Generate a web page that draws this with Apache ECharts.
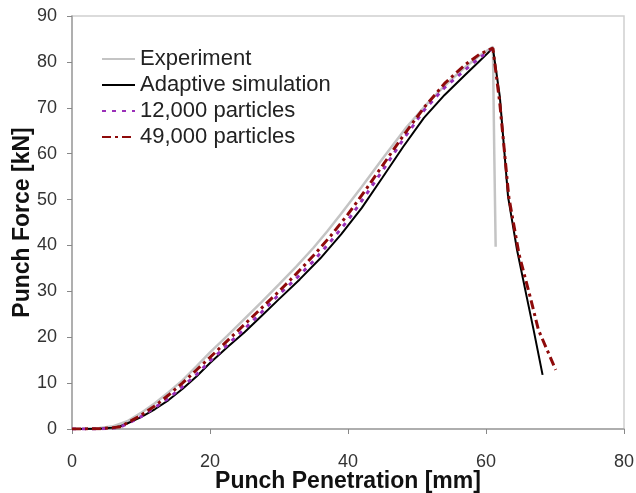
<!DOCTYPE html>
<html>
<head>
<meta charset="utf-8">
<script src="https://cdn.jsdelivr.net/npm/echarts@6/dist/echarts.min.js"></script>
<style>
  html, body { margin: 0; padding: 0; background: #fff; }
  #chart { width: 636px; height: 493px; }
</style>
</head>
<body>
<div id="chart"></div>
<script>
// punch penetration [mm], punch force [kN] pairs
const experiment = [
  [0, 0], [4, 0.2], [6, 0.6], [8, 1.7], [10, 3.5], [12, 5.6], [14, 8], [16, 10.6], [18, 13.6],
  [20, 16.7], [22.5, 20.3], [25, 24], [27.5, 27.7], [30, 31.5], [32.5, 35.4], [35, 39.5],
  [37, 43.1], [39, 46.9], [42, 52.8], [45, 58.9], [48.5, 65.8], [52, 71.8], [54.5, 75.5],
  [56.7, 78.5], [59, 81.3], [61, 83.3], [61.2, 60], [61.4, 39.7]
]
const adaptive = [
  [0, 0], [4, 0.05], [6, 0.3], [7, 0.6], [8, 1.2], [10, 2.6], [12, 4.3], [14, 6.3], [16, 8.7],
  [18, 11.4], [20, 14.4], [22.5, 17.8], [25, 21.1], [27.5, 24.7], [30, 28.3], [33, 32.6],
  [36, 37.2], [39, 42.4], [42, 48.2], [45, 54.8], [48, 61.5], [51, 67.8], [54, 72.8],
  [57, 77.2], [59, 80.1], [61, 83], [62, 72.5], [63.2, 50.6], [64.5, 39], [65.9, 28.8],
  [66.9, 21.6], [68.2, 11.8]
]
const particles12k = [
  [0, 0], [4, 0.03], [6, 0.2], [7, 0.45], [8, 1.1], [10, 2.7], [12, 4.7], [14, 6.7], [16, 9.2],
  [18, 11.8], [20, 14.8], [22.5, 18.3], [25, 21.8], [27.5, 25.5], [30, 29.3], [32.5, 32.8],
  [35, 36.6], [37.5, 40.9], [40, 45.5], [42.5, 50.8], [45, 56.3], [48, 63.1], [51, 69.4],
  [54, 74.4], [57, 78.3], [59, 80.8], [61, 83]
]
const particles49k = [
  [0, 0], [4, 0.05], [6, 0.3], [7, 0.5], [8, 1.3], [10, 3], [12, 5], [14, 7.4], [16, 10],
  [18, 12.8], [20, 15.6], [22.5, 19.2], [25, 22.8], [27.5, 26.4], [30, 30], [32.5, 33.8],
  [35, 37.8], [37.5, 42.1], [40, 46.8], [42.5, 52], [45, 57.4], [48, 63.9], [51, 70], [54, 75.3],
  [57, 79.4], [59, 81.6], [61, 83], [62, 71], [63.3, 50.6], [64.8, 38], [66.4, 28.8],
  [67.6, 21.6], [70.1, 12.9]
]
const seriesNames = ['Experiment', 'Adaptive simulation', '12,000 particles', '49,000 particles']

const font = 'Liberation Sans, Arial, sans-serif'
const chart = echarts.init(document.getElementById('chart'))

const line = (name, data, color, width, type, z) => ({
  name: name,
  type: 'line',
  data: data,
  symbol: 'none',
  z: z,
  lineStyle: { color: color, width: width, type: type },
  itemStyle: { color: color }
})

chart.setOption({
  animation: false,
  backgroundColor: '#fff',
  grid: {
    left: 72, right: 12, top: 16, bottom: 64,
    outerBoundsMode: 'none',
    containLabel: false,
    show: true, borderColor: '#d0d0d0', borderWidth: 1.5
  },
  legend: {
    data: seriesNames,
    orient: 'vertical',
    left: 96,
    top: 43,
    itemWidth: 33,
    itemHeight: 20,
    itemGap: 4,
    itemStyle: { opacity: 0 },
    textStyle: { fontFamily: font, fontSize: 22, color: '#222', lineHeight: 22 }
  },
  xAxis: {
    type: 'value',
    min: 0, max: 80, interval: 20,
    name: 'Punch Penetration [mm]',
    nameLocation: 'middle',
    nameGap: 41,
    nameMoveOverlap: false,
    nameTextStyle: { fontFamily: font, fontSize: 23, fontWeight: 'bold', color: '#111' },
    axisLine: { lineStyle: { color: '#a0a0a0', width: 1.5 } },
    axisTick: { show: true, length: 5, lineStyle: { color: '#888' } },
    axisLabel: { margin: 24, fontFamily: font, fontSize: 18, color: '#333' },
    splitLine: { show: false }
  },
  yAxis: {
    type: 'value',
    min: 0, max: 90, interval: 10,
    name: 'Punch Force [kN]',
    nameLocation: 'middle',
    nameGap: 38,
    nameMoveOverlap: false,
    nameTextStyle: { fontFamily: font, fontSize: 23, fontWeight: 'bold', color: '#111' },
    axisLine: { show: true, lineStyle: { color: '#a0a0a0', width: 1.5 } },
    axisTick: { show: true, length: 5, lineStyle: { color: '#888' } },
    axisLabel: { margin: 15, fontFamily: font, fontSize: 18, color: '#333' },
    splitLine: { show: false }
  },
  series: [
    line(seriesNames[0], experiment, '#c4c4c4', 2.5, 'solid', 2),
    line(seriesNames[1], adaptive, '#000000', 2, 'solid', 3),
    line(seriesNames[2], particles12k, '#9a2fb8', 3, [4, 6], 4),
    line(seriesNames[3], particles49k, '#8e0a0a', 3, [9, 4, 3, 4], 5)
  ]
})
</script>
</body>
</html>
